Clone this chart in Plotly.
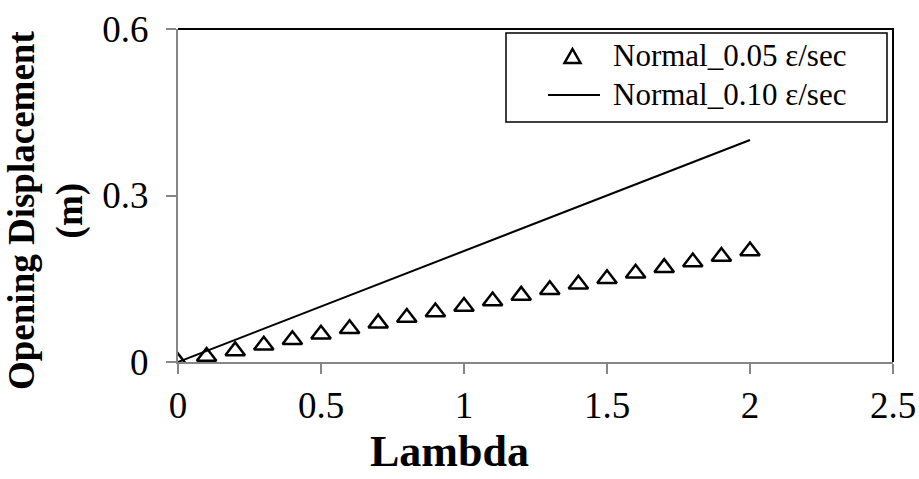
import plotly.graph_objects as go

# Opening displacement (m) against Lambda for two normal strain rates
lam_005 = [0.0, 0.1, 0.2, 0.3, 0.4, 0.5, 0.6, 0.7, 0.8, 0.9, 1.0,
           1.1, 1.2, 1.3, 1.4, 1.5, 1.6, 1.7, 1.8, 1.9, 2.0]
disp_005 = [0.00, 0.01, 0.02, 0.03, 0.04, 0.05, 0.06, 0.07, 0.08, 0.09, 0.10,
            0.11, 0.12, 0.13, 0.14, 0.15, 0.16, 0.17, 0.18, 0.19, 0.20]

lam_010 = [0.0, 0.1, 0.2, 0.3, 0.4, 0.5, 0.6, 0.7, 0.8, 0.9, 1.0,
           1.1, 1.2, 1.3, 1.4, 1.5, 1.6, 1.7, 1.8, 1.9, 2.0]
disp_010 = [0.00, 0.02, 0.04, 0.06, 0.08, 0.10, 0.12, 0.14, 0.16, 0.18, 0.20,
            0.22, 0.24, 0.26, 0.28, 0.30, 0.32, 0.34, 0.36, 0.38, 0.40]

series_names = ["Normal_0.05 ε/sec", "Normal_0.10 ε/sec"]
x_ticks = [0, 0.5, 1, 1.5, 2, 2.5]
y_ticks = [0, 0.3, 0.6]

FONT = "Liberation Serif, Times New Roman, serif"
GRAY = "#868686"

# plotting-area geometry in pixels, used to place the boxed legend
W, H = 919, 479
ML, MR, MT, MB = 178, 26, 29, 117
PW, PH = W - ML - MR, H - MT - MB


def px(xp):
    return (xp - ML) / PW


def py(yp):
    return (H - MB - yp) / PH


fig = go.Figure()
fig.add_trace(go.Scatter(
    x=lam_005, y=disp_005, mode="markers", name=series_names[0],
    marker=dict(symbol="triangle-up-open", size=17, color="black",
                line=dict(width=2.5, color="black")),
))
fig.add_trace(go.Scatter(
    x=lam_010, y=disp_010, mode="lines", name=series_names[1],
    line=dict(color="black", width=2),
))

axis_common = dict(
    showline=True, linecolor=GRAY, linewidth=2,
    ticks="outside", ticklen=10, tickwidth=2, tickcolor=GRAY,
    showgrid=False, zeroline=False, automargin=False,
    tickfont=dict(family=FONT, size=37, color="black"),
)

fig.update_xaxes(range=[0, 2.5], tickvals=x_ticks,
                 ticktext=[f"{v:g}" for v in x_ticks], **axis_common)
fig.update_yaxes(range=[0, 0.6], tickvals=y_ticks,
                 ticktext=[f"{v:g}" for v in y_ticks],
                 ticklabelstandoff=10, **axis_common)

# Black frame on the top and right edges of the plotting area
fig.add_shape(type="path", xref="paper", yref="paper",
              path="M 0 1 L 1 1 L 1 0",
              line=dict(color="black", width=2))

# Boxed legend, entries right-aligned
fig.add_shape(type="rect", xref="paper", yref="paper",
              x0=px(506), x1=px(887), y0=py(122), y1=py(33),
              fillcolor="white", line=dict(color="black", width=1.5))
fig.add_shape(type="path", xref="paper", yref="paper",
              path=(f"M {px(572.5)} {py(49)} L {px(580.5)} {py(63)} "
                    f"L {px(564.5)} {py(63)} Z"),
              line=dict(color="black", width=2.5))
fig.add_shape(type="line", xref="paper", yref="paper",
              x0=px(548), x1=px(600), y0=py(95), y1=py(95),
              line=dict(color="black", width=2))
for name, yc in zip(series_names, [56, 95]):
    fig.add_annotation(text=name, xref="paper", yref="paper",
                       x=px(848), y=py(yc), xanchor="right", yanchor="middle",
                       showarrow=False,
                       font=dict(family=FONT, size=31, color="black"))

fig.add_annotation(text="<b>Lambda</b>", xref="paper", yref="paper",
                   x=px(449), y=py(478), xanchor="center",
                   yanchor="bottom", showarrow=False,
                   font=dict(family=FONT, size=44, color="black"))
fig.add_annotation(text="<b>Opening Displacement</b><br><b>(m)</b>",
                   xref="paper", yref="paper",
                   x=px(46), y=py(211),
                   xanchor="center", yanchor="middle", textangle=-90,
                   showarrow=False,
                   font=dict(family=FONT, size=37, color="black"))

fig.update_layout(
    width=W, height=H,
    margin=dict(l=ML, r=MR, t=MT, b=MB),
    paper_bgcolor="white", plot_bgcolor="white",
    showlegend=False,
)

fig.write_html("out.html")
